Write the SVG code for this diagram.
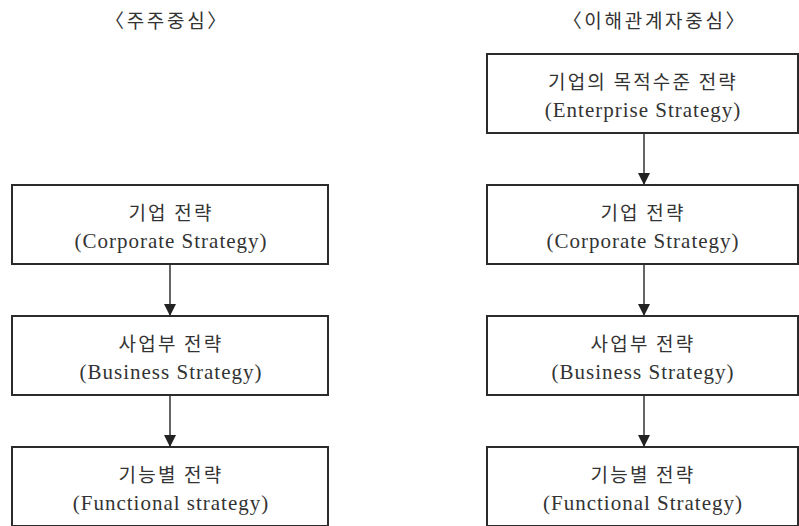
<svg xmlns="http://www.w3.org/2000/svg" width="799" height="526" viewBox="0 0 799 526">
<defs>
<style>
.box{fill:#fff;stroke:#2b2b2b;stroke-width:2}
.ko{font-family:"Noto Sans CJK KR","Noto Sans",sans-serif;font-size:19px;fill:#333;text-anchor:middle;letter-spacing:2.2px}
.en{font-family:"Liberation Serif","DejaVu Serif",serif;font-size:21px;fill:#333;text-anchor:middle;letter-spacing:1px}
.hd{font-family:"Noto Sans CJK KR","Noto Sans",sans-serif;font-size:19px;fill:#333;text-anchor:middle;letter-spacing:2.7px}
.conn{stroke:#333;stroke-width:1.5;fill:none}
</style>
<marker id="arr" viewBox="0 0 12 12" refX="12" refY="6" markerWidth="12" markerHeight="12" markerUnits="userSpaceOnUse" orient="auto">
<path d="M0,0 L12,6 L0,12 Z" fill="#222"/>
</marker>
</defs>
<rect width="799" height="526" fill="#fff"/>
<text class="hd" x="167" y="28">〈주주중심〉</text>
<text class="hd" x="655" y="28">〈이해관계자중심〉</text>
<g id="connectors">
<line class="conn" x1="170" y1="264" x2="170" y2="316" marker-end="url(#arr)"/>
<line class="conn" x1="170" y1="395" x2="170" y2="447" marker-end="url(#arr)"/>
<line class="conn" x1="644" y1="133" x2="644" y2="185" marker-end="url(#arr)"/>
<line class="conn" x1="644" y1="264" x2="644" y2="316" marker-end="url(#arr)"/>
<line class="conn" x1="644" y1="395" x2="644" y2="447" marker-end="url(#arr)"/>
</g>
<g id="l-corporate">
<rect class="box" x="12" y="185" width="316" height="79"/>
<text class="ko" x="171" y="220">기업 전략</text>
<text class="en" x="171" y="248">(Corporate Strategy)</text>
</g>
<g id="l-business">
<rect class="box" x="12" y="316" width="316" height="79"/>
<text class="ko" x="171" y="351">사업부 전략</text>
<text class="en" x="171" y="379">(Business Strategy)</text>
</g>
<g id="l-functional">
<rect class="box" x="12" y="447" width="316" height="79"/>
<text class="ko" x="171" y="482">기능별 전략</text>
<text class="en" x="171" y="510">(Functional strategy)</text>
</g>
<g id="r-enterprise">
<rect class="box" x="487" y="54" width="311" height="79"/>
<text class="ko" x="643" y="89">기업의 목적수준 전략</text>
<text class="en" x="643" y="117">(Enterprise Strategy)</text>
</g>
<g id="r-corporate">
<rect class="box" x="487" y="185" width="311" height="79"/>
<text class="ko" x="643" y="220">기업 전략</text>
<text class="en" x="643" y="248">(Corporate Strategy)</text>
</g>
<g id="r-business">
<rect class="box" x="487" y="316" width="311" height="79"/>
<text class="ko" x="643" y="351">사업부 전략</text>
<text class="en" x="643" y="379">(Business Strategy)</text>
</g>
<g id="r-functional">
<rect class="box" x="487" y="447" width="311" height="79"/>
<text class="ko" x="643" y="482">기능별 전략</text>
<text class="en" x="643" y="510">(Functional Strategy)</text>
</g>
</svg>
